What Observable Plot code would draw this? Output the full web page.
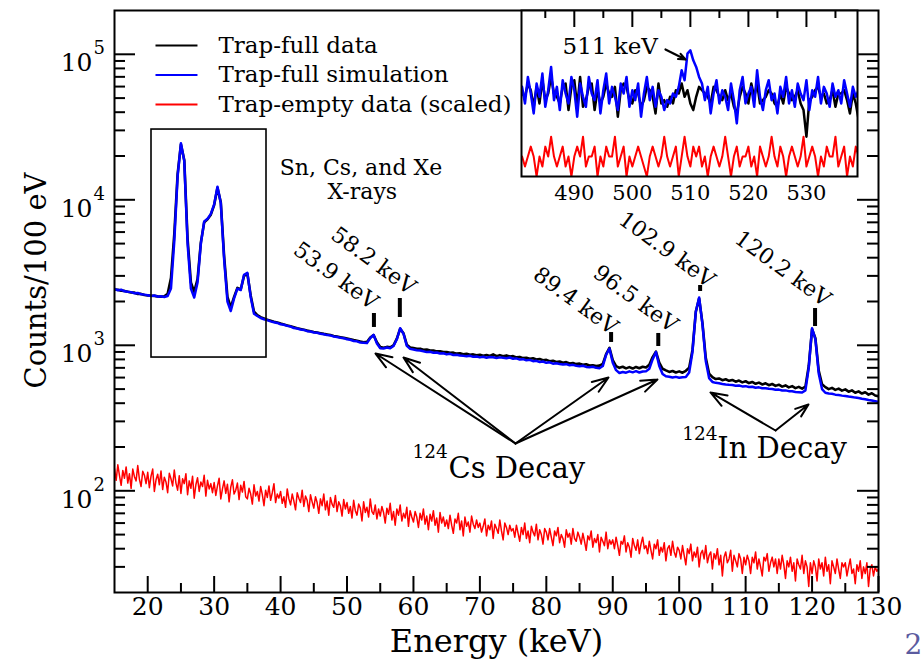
<!DOCTYPE html>
<html><head><meta charset="utf-8">
<script src="https://cdn.jsdelivr.net/npm/d3@7"></script>
<script src="https://cdn.jsdelivr.net/npm/@observablehq/plot@0.6"></script>
<style>
body{margin:0;background:#fff;}
#wrap{position:relative;width:923px;height:660px;overflow:hidden;background:#fff;}
#inset{position:absolute;left:519px;top:8px;}
</style></head>
<body><div id="wrap"><div id="main"></div><div id="inset"></div></div>
<script>
// ---------- main spectrum (trap-full): bins of 0.5 keV starting at 15 keV ----------
const mainStart = 15, mainStep = 0.5;
const blueMain = [
2440,2390,2410,2350,2330,2320,2280,2290,2240,2230,
2210,2180,2200,2160,2170,2150,2180,2460,5200,14500,
24500,18500,5000,2450,2130,2700,5000,7100,7400,8000,
9300,12300,9500,3900,2000,1720,2100,2450,2400,3050,
3150,2150,1650,1590,1540,1510,1490,1460,1440,1425,
1395,1385,1360,1345,1315,1305,1285,1275,1250,1245,
1225,1220,1200,1190,1175,1170,1150,1140,1125,1120,
1100,1090,1070,1065,1045,1040,1035,1120,1180,1030,
955,950,965,955,990,1100,1310,1200,990,945,
935,925,920,910,898,902,888,893,878,882,
866,874,858,862,850,846,840,848,833,838,
826,834,822,830,828,818,826,821,815,824,
808,813,798,803,788,794,778,782,768,774,
758,764,748,752,744,738,742,730,734,724,
718,724,710,706,712,700,696,720,860,950,
760,675,645,655,648,662,652,664,650,660,
662,690,800,900,720,635,612,608,600,607,
598,604,606,650,900,1700,2130,1400,780,595,
560,552,548,542,538,535,533,528,529,522,
524,517,519,511,514,507,506,502,500,495,
496,489,490,484,483,478,476,474,490,700,
1310,1100,640,500,472,466,464,458,455,451,
448,444,441,437,434,429,426,421,418,413,
408];
const blackMain = [
2420,2410,2370,2365,2335,2305,2300,2255,2255,2215,
2205,2190,2185,2170,2160,2175,2260,2900,5800,15000,
24000,18800,5400,2700,2330,2850,5100,7000,7350,7900,
9200,12100,9600,4100,2150,1820,2150,2480,2420,3000,
3100,2200,1700,1610,1560,1530,1500,1475,1450,1435,
1410,1390,1370,1350,1330,1310,1295,1280,1262,1250,
1236,1225,1212,1198,1186,1175,1160,1148,1136,1125,
1112,1100,1086,1074,1060,1050,1055,1130,1175,1050,
975,962,975,968,1000,1110,1300,1210,1010,965,
958,946,948,932,934,920,922,908,910,898,
900,888,890,876,880,868,874,860,866,855,
862,848,858,845,866,842,856,840,852,838,
842,826,832,816,822,808,814,798,804,790,
794,778,784,768,774,758,766,750,756,742,
748,734,740,726,730,720,725,745,870,960,
790,720,700,712,694,708,692,710,696,712,
704,735,830,905,760,690,672,656,666,650,
662,648,668,700,930,1700,2100,1420,820,640,
604,586,592,576,584,570,578,562,572,556,
566,550,560,544,554,538,548,532,542,526,
536,520,530,514,524,508,518,504,520,720,
1290,1120,670,540,516,500,510,494,504,488,
498,480,490,472,482,466,476,458,468,452,
446];
// ---------- trap-empty (scaled): bins of 0.25 keV starting at 15 keV ----------
const redStart = 15, redStep = 0.25;
const redMain = [
142,118,151,127,109,138,122,146,113,131,104,141,125,117,149,120,107,136,128,112,
134,105,126,141,99,119,130,110,137,102,124,115,97,132,121,108,139,113,101,127,
96,121,112,131,94,117,104,126,89,110,123,99,115,107,128,92,118,103,112,97,
114,93,108,122,88,103,117,96,111,84,106,119,95,101,113,87,109,98,116,91,
88,104,95,81,110,92,99,85,107,94,79,101,90,108,86,97,112,83,95,89,
99,82,91,77,103,88,80,95,85,74,97,89,83,101,78,92,86,72,94,84,
76,91,83,70,88,79,95,74,85,68,90,81,77,93,72,84,79,67,87,75,
83,70,78,65,86,73,68,81,76,62,84,71,77,66,88,72,69,80,64,75,
67,78,71,60,76,69,82,63,72,58,75,68,80,62,70,65,77,57,73,66,
61,72,66,56,70,63,75,59,67,54,69,62,73,58,65,52,71,60,66,57,
63,55,68,58,51,64,60,70,54,62,49,66,57,61,52,67,59,55,63,56,
60,52,57,64,49,58,54,62,47,59,55,51,63,53,46,60,56,50,58,53,
55,48,58,51,45,56,50,60,47,53,44,57,52,49,59,46,54,50,43,55,
52,46,55,48,42,53,49,56,44,50,47,41,54,48,51,43,55,47,45,52,
48,43,51,45,39,49,46,53,41,47,44,50,38,48,45,42,52,40,46,43,
46,40,48,42,36,45,43,49,38,44,41,35,47,42,39,46,37,43,48,40,
42,37,45,39,34,43,40,46,36,41,38,44,33,40,42,36,45,38,35,41,
39,34,42,36,31,40,37,43,33,38,35,41,30,37,39,34,42,32,36,38,
29,37,34,40,31,36,26,35,38,32,34,39,28,36,33,30,37,34,27,35,
31,36,33,27,35,32,38,29,34,30,26,35,33,37,28,32,35,30,34,27,
34,29,36,31,25,33,30,35,28,32,24,34,31,29,36,27,33,30,22,32,
27,33,30,24,34,29,32,26,35,28,31,23,33,30,27,34,29,25,32,30,
32,26,30,34,27,29,23,31,28,33,25,30,27,32,22,29,31,26,30,28,
29];

// ---------- inset: 481–539 keV, bins of 0.5 keV ----------
const insetStart = 481, insetStep = 0.5;
const blueInset = [
27,22,30,25,19,28,24,31,21,26,
33,23,27,20,29,25,22,30,26,18,
28,24,21,30,25,23,29,19,26,31,
22,27,24,20,28,25,30,21,26,23,
28,18,25,30,23,27,21,26,24,20,
23,22,25,24,27,32,29,37,38,35,
33,30,28,23,27,19,25,29,22,26,
24,20,28,23,16,26,30,22,25,27,
21,32,24,20,26,29,23,25,19,27,
24,30,22,26,21,28,25,23,29,20,
26,24,30,22,27,25,21,28,24,26,
22,29,25,21,27,24,26];
const blackInset = [
25,24,28,26,21,27,22,29,23,25,
30,25,24,22,27,28,20,27,29,21,
30,21,23,27,28,20,26,22,24,28,
25,24,27,18,26,28,27,23,22,26,
25,21,23,27,26,24,19,28,22,23,
21,24,22,26,25,28,24,26,22,20,
24,27,26,25,24,22,27,26,24,23,
26,23,25,21,19,24,27,25,22,28,
24,28,22,23,24,26,25,22,21,25,
22,27,25,23,24,26,22,20,12,23,
24,26,27,24,25,22,23,26,21,25,
25,26,23,19,25,22,17];
const redInset = [
6,3,6,9,6,0,6,3,9,6,
12,6,3,6,9,3,6,0,6,9,
6,12,3,6,6,9,0,6,3,9,
6,6,12,3,6,9,0,6,3,6,
9,6,3,0,6,9,6,3,6,12,
6,3,6,9,0,6,12,6,3,9,
6,9,3,6,0,6,9,6,3,6,
12,6,0,6,9,3,6,6,9,3,
6,0,9,6,3,6,12,6,3,9,
6,0,6,9,6,3,6,12,3,6,
9,6,0,6,3,9,6,6,12,3,
6,9,0,6,3,9,6];

// ---------- ticks ----------
const xMajor = [20,30,40,50,60,70,80,90,100,110,120,130];
const xMinor = [25,35,45,55,65,75,85,95,105,115,125];
const yDecades = [100,1000,10000,100000];
const yMinor = [30,40,50,60,70,80,90,200,300,400,500,600,700,800,900,
  2000,3000,4000,5000,6000,7000,8000,9000,20000,30000,40000,50000,60000,70000,80000,90000];
const insetMajor = [490,500,510,520,530];
const insetMinor = [485,495,505,515,525,535];

// ---------- legend & annotations ----------
const legendNames = ["Trap-full data","Trap-full simulation","Trap-empty data (scaled)"];
const legendColors = ["#000000","#0000ff","#ff0000"];
const legendY = [114960, 72060, 45200];

const peakNames = ["53.9 keV","58.2 keV","89.4 keV","96.5 keV","102.9 keV","120.2 keV"];
const tickE   = [54.05, 57.95, 89.75, 96.85, 103.15, 120.45];
const tickTop = [1654, 2098, 1224, 1206, 2576, 1790];
const tickBot = [1326, 1552, 1046, 981, 2342, 1346];
const labelE  = [53.68, 59.34, 89.75, 98.78, 104.35, 121.81];
const labelV  = [1734, 2200, 1168, 1206, 2457, 1818];

const csApex = [75.36, 211.4];
const csTips = [[54.29,878],[58.50,824],[89.36,601],[96.73,582]];
const inApex = [114.5, 259.7];
const inTips = [[104.71,474],[119.46,392]];

// ---------- build ----------
const rows = blueMain.map((v,i)=>({E: mainStart + i*mainStep, blue: v, black: blackMain[i]}));
const redRows = redMain.map((v,i)=>({E: redStart + i*redStep, red: v}));
const insetRows = blueInset.map((v,i)=>({E: insetStart + i*insetStep, blue: v, black: blackInset[i], red: redInset[i]}));
const peaks = peakNames.map((n,i)=>({name:n, E:tickE[i], t1:tickTop[i], t2:tickBot[i], lx:labelE[i], ly:labelV[i]}));
const arrows = [
  ...csTips.map(t=>({x1:csApex[0], y1:csApex[1], x2:t[0], y2:t[1]})),
  ...inTips.map(t=>({x1:inApex[0], y1:inApex[1], x2:t[0], y2:t[1]}))
];
const legend = legendNames.map((n,i)=>({name:n, color:legendColors[i], y:legendY[i]}));

const PW = 923-114-45, PH = 660-10-68;
const font = "DejaVu Serif";

const main = Plot.plot({
  width: 923, height: 660,
  marginLeft: 114, marginRight: 45, marginTop: 10, marginBottom: 68,
  x: {domain: [15, 130], axis: null},
  y: {type: "log", domain: [20, 200000], axis: null},
  style: {fontFamily: font, fontSize: "25px", background: "white", color: "black"},
  marks: [
    Plot.line(redRows, {x: "E", y: "red", stroke: "#ff0000", strokeWidth: 1.5, clip: true}),
    Plot.line(rows, {x: "E", y: "black", stroke: "#000000", strokeWidth: 2.6, clip: true}),
    Plot.line(rows, {x: "E", y: "blue", stroke: "#0000ff", strokeWidth: 2.5, clip: true}),
    // inward ticks
    Plot.tickX(xMajor, {x: d=>d, insetTop: PH-16, strokeWidth: 2}),
    Plot.tickX(xMinor, {x: d=>d, insetTop: PH-9, strokeWidth: 2}),
    Plot.tickY(yDecades, {y: d=>d, insetRight: PW-21, strokeWidth: 2}),
    Plot.tickY(yMinor, {y: d=>d, insetRight: PW-11, strokeWidth: 2}),
    Plot.tickY(yDecades, {y: d=>d, insetLeft: PW-21, strokeWidth: 2}),
    Plot.tickY(yMinor, {y: d=>d, insetLeft: PW-11, strokeWidth: 2}),
    Plot.frame({stroke: "black", strokeWidth: 2}),
    Plot.axisX(xMajor, {tickSize: 0, tickPadding: 5, fontSize: 25}),
    Plot.text(yDecades, {y: d=>d, text: ()=>"10", frameAnchor: "left", dx: -22, dy: 17, textAnchor: "end", lineAnchor: "bottom", fontSize: 25}),
    Plot.text(yDecades, {y: d=>d, text: d=>String(Math.round(Math.log10(d))), frameAnchor: "left", dx: -21, dy: 0, textAnchor: "start", lineAnchor: "bottom", fontSize: 18}),
    Plot.text(["Energy (keV)"], {frameAnchor: "bottom", dy: 59, lineAnchor: "bottom", fontSize: 32}),
    Plot.text(["Counts/100 eV"], {frameAnchor: "left", dx: -69, dy: -21, rotate: -90, textAnchor: "middle", lineAnchor: "bottom", fontSize: 29}),
    // legend
    Plot.link(legend, {x1: ()=>21.17, x2: ()=>27.49, y1: "y", y2: "y", stroke: d=>d.color, strokeWidth: 2}),
    Plot.text(legend, {x: ()=>30.65, y: "y", text: "name", textAnchor: "start", lineAnchor: "middle", fontSize: 23}),
    // X-ray box
    Plot.rect([{x1: 20.57, x2: 37.88, y1: 824, y2: 30400}], {x1: "x1", x2: "x2", y1: "y1", y2: "y2", fill: "none", stroke: "black", strokeWidth: 1.6}),
    Plot.text(["Sn, Cs, and Xe"], {x: ()=>52.1, y: ()=>14900, textAnchor: "middle", lineAnchor: "bottom", fontSize: 22}),
    Plot.text(["X-rays"], {x: ()=>52.3, y: ()=>10200, textAnchor: "middle", lineAnchor: "bottom", fontSize: 22}),
    // peak markers and labels
    Plot.ruleX(peaks, {x: "E", y1: "t1", y2: "t2", strokeWidth: 4}),
    Plot.text(peaks, {x: "lx", y: "ly", text: "name", rotate: 36, textAnchor: "end", lineAnchor: "bottom", fontSize: 22}),
    Plot.arrow(arrows, {x1: "x1", y1: "y1", x2: "x2", y2: "y2", stroke: "black", strokeWidth: 2, headLength: 13, headAngle: 40}),
    Plot.text(["124"], {x: ()=>59.86, y: ()=>166.8, textAnchor: "start", lineAnchor: "bottom", fontSize: 18.5}),
    Plot.text(["Cs Decay"], {x: ()=>65.28, y: ()=>123.4, textAnchor: "start", lineAnchor: "bottom", fontSize: 29}),
    Plot.text(["124"], {x: ()=>100.45, y: ()=>221.7, textAnchor: "start", lineAnchor: "bottom", fontSize: 18.5}),
    Plot.text(["In Decay"], {x: ()=>105.72, y: ()=>168.6, textAnchor: "start", lineAnchor: "bottom", fontSize: 29}),
    Plot.text(["2"], {frameAnchor: "bottom-right", dx: 26, dy: 61, textAnchor: "start", lineAnchor: "bottom", fontSize: 28, fill: "#5b5b9f"})
  ]
});
document.getElementById("main").appendChild(main);

const IPW = 336, IPH = 166;
const inset = Plot.plot({
  width: 340, height: 200,
  marginLeft: 2, marginRight: 2, marginTop: 2, marginBottom: 32,
  x: {domain: [480.9, 538.8], axis: null},
  y: {domain: [0, 50], axis: null},
  style: {fontFamily: font, fontSize: "21px", background: "transparent", color: "black"},
  marks: [
    Plot.frame({fill: "white", stroke: null}),
    Plot.line(insetRows, {x: "E", y: "red", stroke: "#ff0000", strokeWidth: 2, clip: true}),
    Plot.line(insetRows, {x: "E", y: "black", stroke: "#000000", strokeWidth: 2.5, clip: true}),
    Plot.line(insetRows, {x: "E", y: "blue", stroke: "#0000ff", strokeWidth: 2.5, clip: true}),
    Plot.tickX(insetMajor, {x: d=>d, insetBottom: IPH-17, strokeWidth: 2}),
    Plot.tickX(insetMinor, {x: d=>d, insetBottom: IPH-8, strokeWidth: 2}),
    Plot.frame({stroke: "black", strokeWidth: 2}),
    Plot.axisX(insetMajor, {tickSize: 0, tickPadding: 9, fontSize: 21}),
    Plot.text(["511 keV"], {x: ()=>487.97, y: ()=>36.75, textAnchor: "start", lineAnchor: "bottom", fontSize: 23}),
    Plot.arrow([{x1: 505.71, y1: 38.25, x2: 509.16, y2: 35.24}], {x1: "x1", y1: "y1", x2: "x2", y2: "y2", stroke: "black", strokeWidth: 2.2, headLength: 11, headAngle: 45})
  ]
});
document.getElementById("inset").appendChild(inset);
</script>
</body></html>
